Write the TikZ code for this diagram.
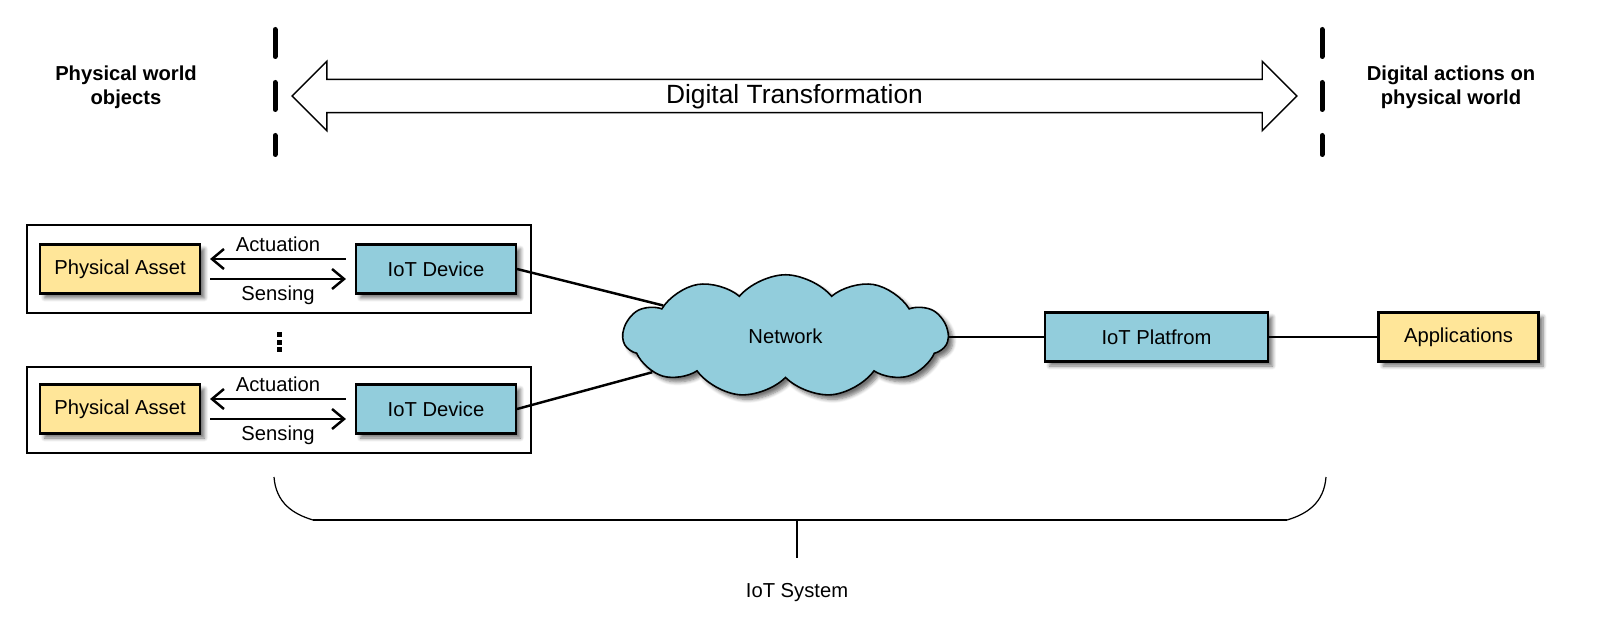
\documentclass[tikz,border=0pt]{standalone}
\usepackage{fontspec}
\setmainfont{Liberation Sans}
\usetikzlibrary{shapes.symbols,shapes.arrows,arrows.meta,shadows.blur,calc}

\definecolor{assetyellow}{HTML}{FFE699}
\definecolor{iotblue}{HTML}{92CDDC}

\begin{document}
\begin{tikzpicture}[x=0.02cm, y=-0.02cm,
    font=\fontsize{11.5}{13}\selectfont,
    boxshadow/.style={blur shadow={shadow xshift=0.09cm, shadow yshift=-0.09cm, shadow blur steps=6, shadow opacity=55}},
    asset/.style={draw, line width=1.2pt, fill=assetyellow, minimum width=3.2cm, minimum height=0.98cm, boxshadow},
    device/.style={draw, line width=1.2pt, fill=iotblue, minimum width=3.2cm, minimum height=0.98cm, boxshadow},
    flow/.style={line width=1.4pt, -{Straight Barb[length=0.24cm, width=0.4cm]}},
    link/.style={line width=1.4pt},
    border/.style={line width=0.1cm, line cap=round, dash pattern=on 0.54cm off 0.52cm}]
    \useasboundingbox (0,0) rectangle (1618,618);

    % top: digital transformation
    \draw[border] (275,29.5) -- (275,154.5);
    \draw[border] (1322,29.5) -- (1322,154.5);
    \node[double arrow, draw, line width=0.8pt, fill=white, minimum height=20.1cm,
          double arrow head extend=0.36cm, inner sep=0.07cm, text height=0.4cm, text depth=0.1cm,
          font=\fontsize{15}{18}\selectfont] (dt) at (794.5,96) {Digital Transformation};
    \node[font=\fontsize{11.5}{13.6}\selectfont\bfseries, align=center] (phys) at (126,87) {Physical world\\objects};
    \node[font=\fontsize{11.5}{13.6}\selectfont\bfseries, align=center] (dig) at (1451,87) {Digital actions on\\physical world};

    % devices
    \draw[line width=0.6pt] (27,225) rectangle (531,313);
    \draw[line width=0.6pt] (27,367) rectangle (531,453);
    \node[asset] (pa1) at (120,269) {Physical Asset};
    \node[device] (dev1) at (436,269) {IoT Device};
    \node[asset] (pa2) at (120,409) {Physical Asset};
    \node[device] (dev2) at (436,409) {IoT Device};
    \draw[flow] ($(dev1.west)+(-9,-10)$) -- ($(pa1.east)+(9,-10)$) node[midway, above] {Actuation};
    \draw[flow] ($(pa1.east)+(9,10)$) -- ($(dev1.west)+(-9,10)$) node[midway, below] {Sensing};
    \draw[flow] ($(dev2.west)+(-9,-10)$) -- ($(pa2.east)+(9,-10)$) node[midway, above] {Actuation};
    \draw[flow] ($(pa2.east)+(9,10)$) -- ($(dev2.west)+(-9,10)$) node[midway, below] {Sensing};
    \fill (277,332) rectangle +(5,5);
    \fill (277,339.5) rectangle +(5,5);
    \fill (277,347) rectangle +(5,5);

    % network and platform
    \node[cloud, draw, line width=0.9pt, fill=iotblue, cloud puffs=11, cloud puff arc=100,
          cloud ignores aspect, minimum width=6.5cm, minimum height=2.45cm, boxshadow] (net) at (785.5,336) {Network};
    \node[device, minimum width=4.46cm] (plat) at (1156.5,337) {IoT Platfrom};
    \node[asset] (app) at (1458.5,337) {Applications};
    \draw[link] (dev1.east) -- (net);
    \draw[link] (dev2.east) -- (net);
    \draw[link] (plat.west -| net.east) -- (plat.west);
    \draw[link] (plat.east) -- (app.west);

    % bottom brace
    \draw[line width=0.7pt] (274,477) .. controls (276,503) and (293,514) .. (313,520);
    \draw[line width=0.7pt] (1326,477) .. controls (1324,503) and (1307,514) .. (1287,520);
    \draw[line width=1.1pt] (313,520) -- (1287,520);
    \coordinate (bmid) at (797,520);
    \coordinate (bend) at (797,558);
    \draw[line width=0.6pt] (bmid) -- (bend);
    \node (sys) at (797,593) {IoT System};
\end{tikzpicture}
\end{document}
